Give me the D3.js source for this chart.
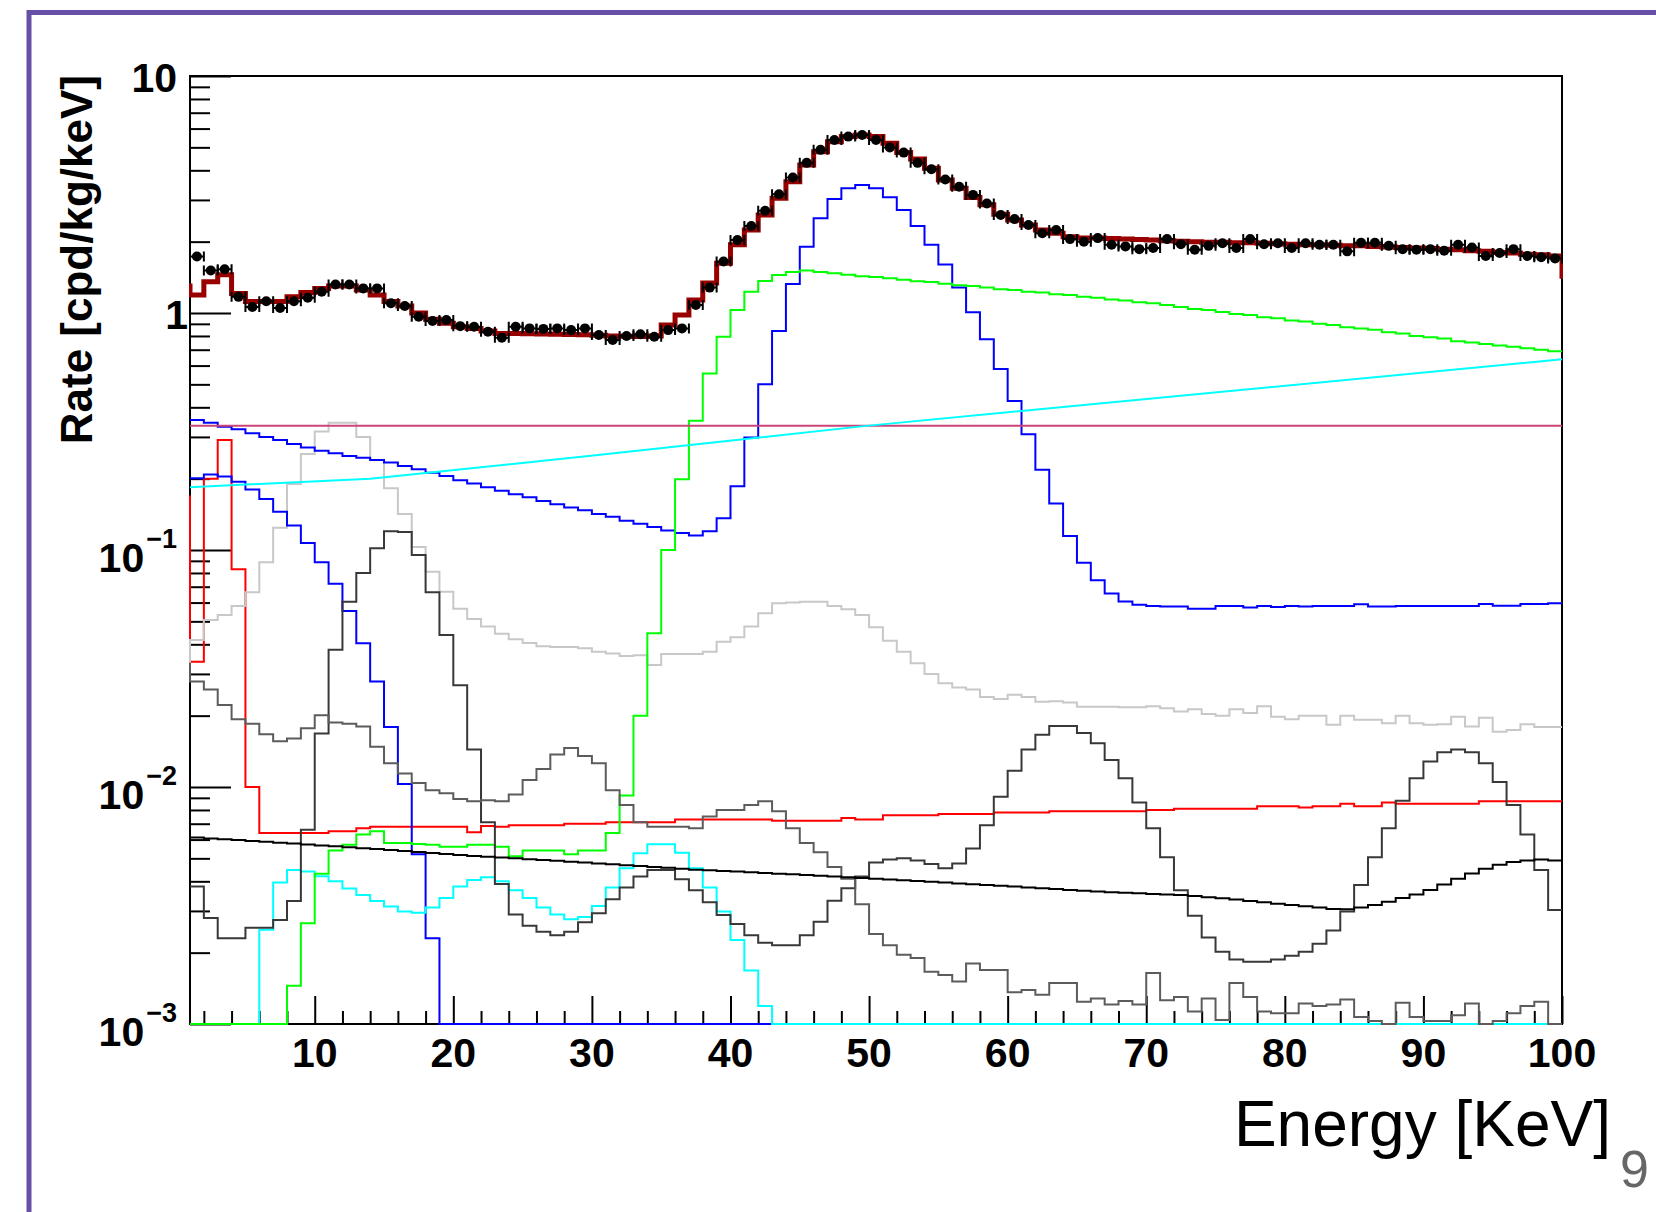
<!DOCTYPE html>
<html>
<head>
<meta charset="utf-8">
<script src="https://cdn.jsdelivr.net/npm/d3@7"></script>
<style>
  body { margin: 0; background: #fff; }
  svg text { font-family: 'Liberation Sans', Arial, Helvetica, sans-serif; }
</style>
</head>
<body>
<svg id="spectrum"></svg>
<script>
const W = 1656
const H = 1212
const frame = { left: 190, right: 1562, top: 76, bottom: 1024 }

/// Axis ticks and labels ////////////////////////////////
const xMajor = [10, 20, 30, 40, 50, 60, 70, 80, 90, 100]
const yDecades = [0.001, 0.01, 0.1, 1, 10]
const yLabelBase = ['10', '10', '10', '1', '10']
const yLabelExp = ['\u22123', '\u22122', '\u22121', '', '']

/// Histograms: 1 keV bins, first value is the bin starting at *Start keV ////
const dataStart = 1
const dataRate = [1.73, 1.51, 1.53, 1.17, 1.06, 1.12, 1.05, 1.12, 1.16, 1.23,
  1.32, 1.32, 1.27, 1.27, 1.10, 1.07, 0.964, 0.925, 0.935, 0.88,
  0.875, 0.834, 0.787, 0.875, 0.861, 0.857, 0.861, 0.847, 0.861, 0.807,
  0.769, 0.80, 0.813, 0.794, 0.847, 0.861, 1.08, 1.28, 1.65, 2.03,
  2.33, 2.70, 3.17, 3.73, 4.30, 4.88, 5.37, 5.55, 5.64, 5.37,
  4.99, 4.75, 4.30, 4.04, 3.66, 3.41, 3.15, 2.90, 2.59, 2.49,
  2.35, 2.17, 2.24, 2.05, 2.00, 2.07, 1.94, 1.91, 1.86, 1.88,
  2.05, 1.95, 1.85, 1.92, 1.97, 1.88, 2.05, 1.95, 1.97, 1.88,
  1.97, 1.94, 1.94, 1.82, 1.98, 1.98, 1.92, 1.86, 1.85, 1.86,
  1.83, 1.94, 1.89, 1.74, 1.79, 1.86, 1.74, 1.72, 1.70]

const totalStart = 0
const totalFit = [1.30, 1.19, 1.355, 1.45, 1.21, 1.117, 1.117, 1.117, 1.17, 1.22,
  1.27, 1.30, 1.30, 1.25, 1.19, 1.117, 1.07, 1.0, 0.94, 0.905,
  0.875, 0.86, 0.84, 0.82, 0.82, 0.818, 0.816, 0.814, 0.812, 0.81,
  0.806, 0.80, 0.798, 0.796, 0.80, 0.89, 0.98, 1.135, 1.34, 1.62,
  1.94, 2.24, 2.59, 3.05, 3.58, 4.21, 4.79, 5.28, 5.55, 5.64,
  5.55, 5.2, 4.75, 4.46, 4.08, 3.64, 3.36, 3.07, 2.86, 2.61,
  2.47, 2.35, 2.24, 2.17, 2.1, 2.07, 2.07, 2.06, 2.05, 2.04,
  2.03, 2.02, 2.01, 2.0, 1.99, 1.99, 1.98, 1.98, 1.97, 1.96,
  1.95, 1.94, 1.94, 1.93, 1.92, 1.92, 1.91, 1.90, 1.89, 1.88,
  1.87, 1.86, 1.85, 1.83, 1.82, 1.80, 1.79, 1.77, 1.76, 1.74, 1.43]

const redStart = 0
const redComp = [0.168, 0.0338, 0.20, 0.291, 0.083, 0.010, 0.0064, 0.0064, 0.0064, 0.0064,
  0.0064, 0.0065, 0.0065, 0.0067, 0.0068, 0.0068, 0.0068, 0.0068, 0.0068, 0.0068,
  0.0068, 0.00645, 0.00685, 0.0068, 0.0069, 0.0069, 0.0069, 0.0069, 0.0070, 0.0070,
  0.0070, 0.0071, 0.0071, 0.0071, 0.0071, 0.0071, 0.0073, 0.0073, 0.0073, 0.0073,
  0.0073, 0.0073, 0.0073, 0.0072, 0.0072, 0.0072, 0.0072, 0.0072, 0.0074, 0.0073,
  0.0073, 0.0076, 0.0076, 0.0076, 0.0076, 0.0077, 0.0077, 0.0077, 0.0077, 0.0078,
  0.0078, 0.0078, 0.0078, 0.0079, 0.0079, 0.0079, 0.0079, 0.0079, 0.0079, 0.0079,
  0.0080, 0.0080, 0.0081, 0.0081, 0.0081, 0.0081, 0.0081, 0.0081, 0.0083, 0.0083,
  0.0083, 0.0082, 0.0083, 0.0083, 0.0085, 0.0083, 0.0083, 0.0086, 0.0085, 0.0085,
  0.0085, 0.0085, 0.0085, 0.0085, 0.0087, 0.0087, 0.0087, 0.0087, 0.0087, 0.0087]

const lightGrayStart = 0
const lightGrayComp = [0.0338, 0.0417, 0.0507, 0.0532, 0.058, 0.0663, 0.0888, 0.124, 0.19, 0.254,
  0.316, 0.344, 0.344, 0.30, 0.240, 0.182, 0.142, 0.103, 0.081, 0.0667,
  0.0565, 0.0512, 0.0475, 0.0443, 0.042, 0.0405, 0.0393, 0.039, 0.039, 0.0385,
  0.0372, 0.0366, 0.0357, 0.036, 0.0327, 0.0364, 0.0364, 0.0364, 0.0372, 0.041,
  0.0428, 0.0475, 0.0541, 0.0596, 0.060, 0.0605, 0.0605, 0.058, 0.0562, 0.0532,
  0.0472, 0.0414, 0.0372, 0.0333, 0.030, 0.0274, 0.0263, 0.0258, 0.024, 0.0235,
  0.0245, 0.024, 0.0229, 0.023, 0.0227, 0.0218, 0.0218, 0.0218, 0.0217, 0.0217,
  0.0219, 0.0215, 0.0208, 0.0213, 0.0203, 0.020, 0.0213, 0.0205, 0.0219, 0.0198,
  0.0193, 0.020, 0.020, 0.0183, 0.020, 0.0192, 0.0192, 0.0186, 0.020, 0.0186,
  0.0183, 0.0184, 0.0198, 0.018, 0.0196, 0.0171, 0.0174, 0.0184, 0.0179, 0.0179]

const midGrayStart = 0
const midGrayComp = [0.033, 0.0279, 0.0258, 0.0222, 0.0193, 0.0185, 0.0167, 0.0156, 0.016, 0.0177,
  0.0201, 0.0187, 0.0185, 0.018, 0.0148, 0.0126, 0.0114, 0.0104, 0.0097, 0.0094,
  0.0089, 0.0087, 0.0088, 0.0087, 0.0093, 0.0107, 0.0119, 0.0137, 0.0146, 0.0135,
  0.0126, 0.0097, 0.0084, 0.0071, 0.0068, 0.0068, 0.0068, 0.0067, 0.0075, 0.008,
  0.008, 0.0084, 0.0087, 0.0079, 0.0067, 0.0058, 0.0053, 0.0046, 0.0041, 0.0032,
  0.0024, 0.00215, 0.00196, 0.0019, 0.00166, 0.00161, 0.00151, 0.0018, 0.00169, 0.00169,
  0.00136, 0.00139, 0.00133, 0.00149, 0.00149, 0.00124, 0.00128, 0.00121, 0.00125, 0.00121,
  0.00164, 0.00126, 0.0013, 0.00113, 0.00128, 0.00104, 0.00149, 0.0013, 0.00113, 0.00111,
  0.00111, 0.00122, 0.00119, 0.00121, 0.00127, 0.00107, 0.00103, 0, 0.00123, 0.00107,
  0.00103, 0.00103, 0.00109, 0.00122, 0, 0.00103, 0.00111, 0.00119, 0.00124, 0]

const darkGrayStart = 1
const darkGrayComp = [0.0038, 0.0028, 0.0023, 0.0023, 0.00255, 0.00255, 0.00275, 0.0033, 0.0066, 0.0168,
  0.0379, 0.0605, 0.080, 0.1016, 0.120, 0.119, 0.0953, 0.0663, 0.0438, 0.0269,
  0.0144, 0.0071, 0.0039, 0.0029, 0.0026, 0.00245, 0.00237, 0.00245, 0.00269, 0.00293,
  0.00336, 0.00377, 0.00419, 0.00447, 0.00447, 0.00408, 0.00367, 0.00326, 0.00288, 0.00264,
  0.00237, 0.0022, 0.00215, 0.00215, 0.00237, 0.0027, 0.00331, 0.00374, 0.00419, 0.0048,
  0.00495, 0.0050, 0.0049, 0.00473, 0.00454, 0.00476, 0.0055, 0.0069, 0.0091, 0.0117,
  0.0144, 0.0166, 0.0181, 0.0181, 0.0169, 0.0153, 0.013, 0.0109, 0.0086, 0.0067,
  0.00505, 0.00367, 0.00286, 0.00232, 0.00202, 0.00187, 0.00183, 0.00183, 0.00187, 0.00194,
  0.00202, 0.00218, 0.00248, 0.00298, 0.00386, 0.00505, 0.0067, 0.00876, 0.0109, 0.0128,
  0.014, 0.0144, 0.014, 0.0126, 0.0105, 0.0084, 0.0063, 0.00447, 0.00303]

const blueAStart = 1
const blueAComp = [0.354, 0.344, 0.331, 0.323, 0.311, 0.300, 0.291, 0.280, 0.271, 0.262,
  0.256, 0.249, 0.245, 0.240, 0.234, 0.226, 0.219, 0.212, 0.205, 0.197,
  0.191, 0.184, 0.178, 0.172, 0.167, 0.161, 0.156, 0.151, 0.147, 0.142,
  0.138, 0.133, 0.129, 0.125, 0.121, 0.118, 0.115, 0.120, 0.136, 0.186,
  0.298, 0.501, 0.839, 1.325, 1.905, 2.51, 3.03, 3.36, 3.47, 3.36,
  3.08, 2.72, 2.33, 1.94, 1.60, 1.28, 1.007, 0.774, 0.580, 0.425,
  0.308, 0.218, 0.157, 0.1145, 0.0884, 0.0745, 0.0655, 0.0607, 0.0588, 0.058,
  0.0577, 0.0577, 0.0565, 0.0565, 0.058, 0.058, 0.0572, 0.058, 0.0575, 0.058,
  0.0578, 0.058, 0.058, 0.058, 0.059, 0.0578, 0.0578, 0.058, 0.058, 0.058,
  0.058, 0.058, 0.058, 0.0592, 0.0582, 0.0582, 0.0592, 0.0592, 0.0596]

const blueBStart = 1
const blueBComp = [0.201, 0.208, 0.204, 0.194, 0.180, 0.164, 0.145, 0.127, 0.107, 0.0888,
  0.072, 0.0553, 0.0404, 0.0279, 0.0179, 0.0103, 0.0052, 0.0023, 0, 0,
  0, 0, 0, 0, 0, 0, 0, 0, 0, 0,
  0, 0, 0, 0, 0, 0, 0, 0, 0, 0,
  0, 0, 0, 0, 0, 0, 0, 0, 0, 0,
  0, 0, 0, 0, 0, 0, 0, 0, 0, 0,
  0, 0, 0, 0, 0, 0, 0, 0, 0, 0,
  0, 0, 0, 0, 0, 0, 0, 0, 0, 0,
  0, 0, 0, 0, 0, 0, 0, 0, 0, 0,
  0, 0, 0, 0, 0, 0, 0, 0, 0]

const cyanStart = 1
const cyanComp = [0, 0, 0, 0, 0, 0.0025, 0.00395, 0.00447, 0.0044, 0.0042,
  0.0040, 0.00373, 0.0035, 0.0033, 0.00313, 0.00298, 0.00295, 0.0031, 0.0034, 0.0038,
  0.00405, 0.00416, 0.0040, 0.00367, 0.0034, 0.0031, 0.0029, 0.00277, 0.00283, 0.00315,
  0.00377, 0.00454, 0.00525, 0.00573, 0.00573, 0.00528, 0.00454, 0.00377, 0.00298, 0.00226,
  0.00168, 0.00119, 0, 0, 0, 0, 0, 0, 0, 0,
  0, 0, 0, 0, 0, 0, 0, 0, 0, 0,
  0, 0, 0, 0, 0, 0, 0, 0, 0, 0,
  0, 0, 0, 0, 0, 0, 0, 0, 0, 0,
  0, 0, 0, 0, 0, 0, 0, 0, 0, 0,
  0, 0, 0, 0, 0, 0, 0, 0, 0]

const greenStart = 1
const greenComp = [0, 0, 0, 0, 0, 0, 0, 0.00145, 0.00266, 0.0043,
  0.0054, 0.0057, 0.0063, 0.0065, 0.0058, 0.0058, 0.00575, 0.0057, 0.0056, 0.0056,
  0.0057, 0.0057, 0.0056, 0.0051, 0.0054, 0.0054, 0.0054, 0.0052, 0.0054, 0.0054,
  0.0064, 0.0092, 0.020, 0.0445, 0.10, 0.199, 0.351, 0.556, 0.794, 1.03,
  1.23, 1.365, 1.446, 1.49, 1.51, 1.49, 1.47, 1.45, 1.43, 1.42,
  1.40, 1.38, 1.36, 1.35, 1.33, 1.31, 1.30, 1.28, 1.26, 1.25,
  1.23, 1.22, 1.20, 1.19, 1.17, 1.16, 1.14, 1.13, 1.11, 1.10,
  1.08, 1.06, 1.04, 1.03, 1.01, 0.99, 0.98, 0.96, 0.95, 0.93,
  0.92, 0.90, 0.89, 0.87, 0.86, 0.85, 0.83, 0.82, 0.80, 0.79,
  0.78, 0.76, 0.75, 0.74, 0.73, 0.72, 0.71, 0.70, 0.69]

const blackStart = 1
const blackComp = [0.00612, 0.00607, 0.00602, 0.00597, 0.00592, 0.00587, 0.00582, 0.00577, 0.00572, 0.00567,
  0.00562, 0.00557, 0.00552, 0.00547, 0.00542, 0.00537, 0.00532, 0.00527, 0.00522, 0.00517,
  0.00512, 0.00508, 0.00504, 0.00500, 0.00496, 0.00492, 0.00488, 0.00484, 0.00480, 0.00476,
  0.00472, 0.00468, 0.00464, 0.00460, 0.00456, 0.00452, 0.00448, 0.00445, 0.00442, 0.00440,
  0.00437, 0.00434, 0.00431, 0.00428, 0.00425, 0.00422, 0.00419, 0.00416, 0.00413, 0.00410,
  0.00407, 0.00404, 0.00401, 0.00398, 0.00395, 0.00392, 0.00389, 0.00386, 0.00383, 0.00380,
  0.00377, 0.00374, 0.00371, 0.00368, 0.00365, 0.00362, 0.00360, 0.00358, 0.00356, 0.00354,
  0.00352, 0.00350, 0.00347, 0.00343, 0.00339, 0.00335, 0.00330, 0.00326, 0.00322, 0.00318,
  0.00314, 0.00310, 0.00306, 0.00305, 0.00310, 0.00318, 0.00328, 0.00340, 0.00352, 0.00368,
  0.00388, 0.00410, 0.00432, 0.00452, 0.00470, 0.00482, 0.00490, 0.00494, 0.00490]

// flat / slowly rising components, read at a few energies [keV, rate]
const magentaLine = [[1, 0.334], [100, 0.334]]
const cyanLine = [[1, 0.184], [14, 0.20], [30.6, 0.252], [49.8, 0.334], [100, 0.638]]

/// Scales ////////////////////////////////
const xScale = d3.scaleLinear().domain([1, 100]).range([frame.left, frame.right])
const yScale = d3.scaleLog().domain([0.001, 10]).range([frame.bottom, frame.top])
// empty bins sit on the bottom of the frame, like ROOT does on a log axis
const yPos = v => (v > 0 ? yScale(v) : frame.bottom)

const svg = d3
  .select('#spectrum')
  .attr('width', W)
  .attr('height', H)

svg.append('rect').attr('width', W).attr('height', H).attr('fill', '#fff')

// slide border
svg
  .append('path')
  .attr('d', `M29,${H + 5} V12.5 H${W + 5}`)
  .attr('fill', 'none')
  .attr('stroke', '#674ea7')
  .attr('stroke-width', 5)

/// Axes ////////////////////////////////
const xMinor = d3.range(2, 100, 2).filter(v => v % 10 !== 0)
const yMinor = []
yDecades.slice(0, -1).forEach(d => {
  for (let m = 2; m <= 9; m++) yMinor.push(d * m)
})

function tickAxis(axis, values, size, transform) {
  svg
    .append('g')
    .attr('transform', transform)
    .call(axis.tickValues(values).tickSize(size).tickFormat(''))
    .call(g => g.select('.domain').remove())
    .call(g => g.selectAll('line').attr('stroke', '#000').attr('stroke-width', 2))
}

tickAxis(d3.axisBottom(xScale), xMajor, -28, `translate(0,${frame.bottom})`)
tickAxis(d3.axisBottom(xScale), xMinor, -13, `translate(0,${frame.bottom})`)
tickAxis(d3.axisLeft(yScale), yDecades, -41, `translate(${frame.left},0)`)
tickAxis(d3.axisLeft(yScale), yMinor, -20, `translate(${frame.left},0)`)

svg
  .append('rect')
  .attr('x', frame.left)
  .attr('y', frame.top)
  .attr('width', frame.right - frame.left)
  .attr('height', frame.bottom - frame.top)
  .attr('fill', 'none')
  .attr('stroke', '#000')
  .attr('stroke-width', 2)

/// Histograms ////////////////////////////////
svg
  .append('clipPath')
  .attr('id', 'plotClip')
  .append('rect')
  .attr('x', frame.left - 1)
  .attr('y', frame.top - 2)
  .attr('width', frame.right - frame.left + 2)
  .attr('height', frame.bottom - frame.top + 3)

const plot = svg.append('g').attr('clip-path', 'url(#plotClip)')

const stepLine = d3
  .line()
  .x(d => xScale(d[0]))
  .y(d => yPos(d[1]))
  .curve(d3.curveStepAfter)

const straightLine = d3
  .line()
  .x(d => xScale(d[0]))
  .y(d => yScale(d[1]))

function histPoints(start, values) {
  const pts = values.map((v, i) => [start + i, v])
  pts.push([start + values.length, values[values.length - 1]])
  return pts
}

const histos = [
  { start: redStart, values: redComp, color: '#ff0000', width: 2 },
  { start: lightGrayStart, values: lightGrayComp, color: '#c8c8c8', width: 2 },
  { start: blueAStart, values: blueAComp, color: '#0000ff', width: 2 },
  { start: blueBStart, values: blueBComp, color: '#0000ff', width: 2 },
  { start: cyanStart, values: cyanComp, color: '#00ffff', width: 2 },
  { start: greenStart, values: greenComp, color: '#00ff00', width: 2 },
  { start: darkGrayStart, values: darkGrayComp, color: '#383838', width: 2 },
  { start: midGrayStart, values: midGrayComp, color: '#5c5c5c', width: 2 },
  { start: blackStart, values: blackComp, color: '#000000', width: 2 }
]

histos.forEach(h => {
  plot
    .append('path')
    .attr('d', stepLine(histPoints(h.start, h.values)))
    .attr('fill', 'none')
    .attr('stroke', h.color)
    .attr('stroke-width', h.width)
})

plot
  .append('path')
  .attr('d', straightLine(magentaLine))
  .attr('fill', 'none')
  .attr('stroke', '#cc4477')
  .attr('stroke-width', 2)

plot
  .append('path')
  .attr('d', straightLine(cyanLine))
  .attr('fill', 'none')
  .attr('stroke', '#00ffff')
  .attr('stroke-width', 2)

plot
  .append('path')
  .attr('d', stepLine(histPoints(totalStart, totalFit)))
  .attr('fill', 'none')
  .attr('stroke', '#990000')
  .attr('stroke-width', 5)
  .attr('stroke-linejoin', 'miter')

/// Data points with bin-width bars ////////////////////////////////
const points = dataRate.map((v, i) => ({ lo: dataStart + i, v }))
const pts = plot
  .selectAll('.datapoint')
  .data(points)
  .enter()
  .append('g')
  .attr('class', 'datapoint')

pts
  .append('path')
  .attr('d', d => {
    const x0 = xScale(d.lo)
    const x1 = xScale(d.lo + 1)
    const yv = yScale(d.v)
    return `M${x0},${yv} H${x1} M${x0},${yv - 5} V${yv + 5} M${x1},${yv - 5} V${yv + 5}`
  })
  .attr('fill', 'none')
  .attr('stroke', '#000')
  .attr('stroke-width', 2)

pts
  .append('circle')
  .attr('cx', d => xScale(d.lo + 0.5))
  .attr('cy', d => yScale(d.v))
  .attr('r', 5)
  .attr('fill', '#000')

/// Labels ////////////////////////////////
svg
  .selectAll('.xlabel')
  .data(xMajor)
  .enter()
  .append('text')
  .attr('class', 'xlabel')
  .attr('x', d => xScale(d))
  .attr('y', 1067)
  .attr('text-anchor', 'middle')
  .attr('font-size', 41)
  .attr('font-weight', 'bold')
  .text(d => d)

yDecades.forEach((d, i) => {
  const exp = yLabelExp[i]
  const base = yLabelBase[i]
  const t = svg
    .append('text')
    .attr('x', base === '1' ? 188 : 177)
    .attr('y', yScale(d) + (exp ? 22 : 16))
    .attr('text-anchor', 'end')
    .attr('font-size', 41)
    .attr('font-weight', 'bold')
  t.append('tspan').text(base)
  if (exp) {
    t.append('tspan')
      .attr('dx', 2)
      .attr('dy', -24)
      .attr('font-size', 27)
      .text(exp)
  }
})

svg
  .append('text')
  .attr('transform', 'translate(92,75) rotate(-90)')
  .attr('text-anchor', 'end')
  .attr('font-size', 44)
  .attr('font-weight', 'bold')
  .text('Rate [cpd/kg/keV]')

svg
  .append('text')
  .attr('x', 1611)
  .attr('y', 1146)
  .attr('text-anchor', 'end')
  .attr('font-size', 64)
  .text('Energy [KeV]')

// slide number
svg
  .append('text')
  .attr('x', 1620)
  .attr('y', 1187)
  .attr('font-size', 52)
  .attr('fill', '#666')
  .text('9')
</script>
</body>
</html>
